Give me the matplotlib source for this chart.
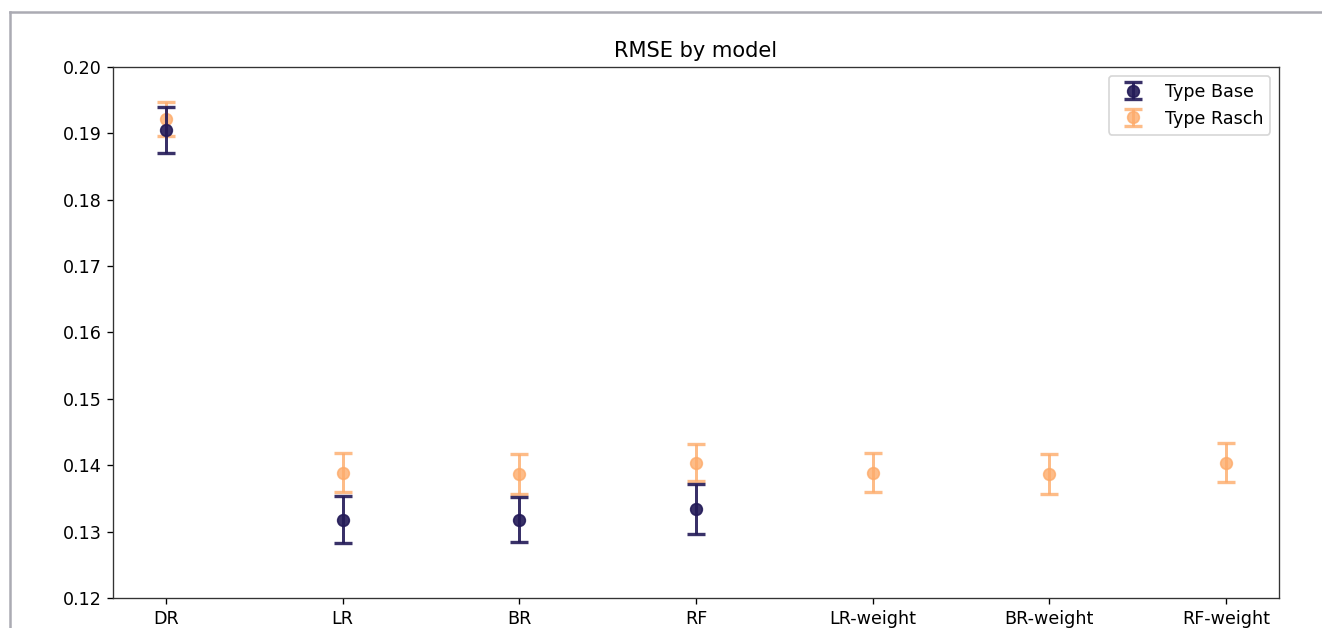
import matplotlib.pyplot as plt
import numpy as np

models = ['DR', 'LR', 'BR', 'RF', 'LR-weight', 'BR-weight', 'RF-weight']

# RMSE mean and error half-width, nan where there is no base run
base_mean = [0.1905, 0.1318, 0.1318, 0.1334, np.nan, np.nan, np.nan]
base_err = [0.0034, 0.0035, 0.0034, 0.0037, np.nan, np.nan, np.nan]
rasch_mean = [0.1922, 0.1389, 0.1387, 0.1404, 0.1389, 0.1387, 0.1404]
rasch_err = [0.0026, 0.0029, 0.0030, 0.0028, 0.0029, 0.0030, 0.0029]

plt.rcParams['font.size'] = 10.5

fig = plt.figure(figsize=(1322 / 120, 628 / 120), dpi=120)
ax = fig.add_axes([0.0855, 0.0478, 0.882, 0.8455])

x = np.arange(len(models))
ax.errorbar(x, base_mean, yerr=base_err, fmt='o', color='#231a58', alpha=0.9,
            capsize=5.5, capthick=2, elinewidth=1.8, markersize=7,
            label='Type Base', zorder=3)
ax.errorbar(x, rasch_mean, yerr=rasch_err, fmt='o', color='#fdab6a', alpha=0.8,
            capsize=5.5, capthick=2, elinewidth=1.8, markersize=7,
            label='Type Rasch', zorder=2)

ax.set_xticks(x)
ax.set_xticklabels(models)
ax.set_ylim(0.12, 0.20)
ax.set_title('RMSE by model')
ax.legend(loc='upper right')
for s in ax.spines.values():
    s.set_color('#333333')

# screenshot frame
fig.add_artist(plt.Line2D([0.0076, 1], [0.981, 0.981], color='#ababb3', lw=1.5, transform=fig.transFigure))
fig.add_artist(plt.Line2D([0.0076, 0.0076], [0, 0.981], color='#ababb3', lw=1.5, transform=fig.transFigure))

plt.savefig('out.png')
plt.close()
